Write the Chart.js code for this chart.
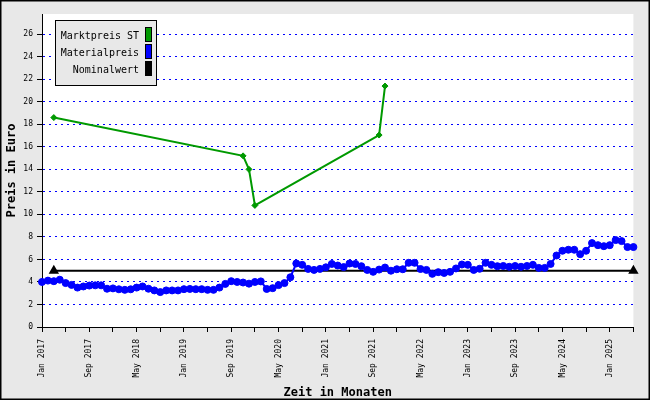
<!DOCTYPE html>
<html>
<head>
<meta charset="utf-8">
<script src="https://cdn.jsdelivr.net/npm/chart.js@4/dist/chart.umd.min.js"></script>
<style>
  html, body { margin: 0; padding: 0; background: #e8e8e8; }
</style>
</head>
<body>
<canvas id="chart" width="650" height="400"></canvas>
<script>
// Materialpreis, ein Wert pro Monat: Jan 2017 (Index 0) bis Mai 2025 (Index 100)
const materialpreis = [
  4.0, 4.12, 4.07, 4.2, 3.9, 3.74, 3.5, 3.6, 3.68, 3.7,
  3.7, 3.4, 3.43, 3.35, 3.3, 3.35, 3.5, 3.6, 3.4, 3.25,
  3.1, 3.25, 3.25, 3.25, 3.36, 3.38, 3.36, 3.36, 3.3, 3.3,
  3.5, 3.83, 4.07, 4.0, 3.95, 3.85, 4.0, 4.05, 3.38, 3.45,
  3.72, 3.9, 4.42, 5.64, 5.52, 5.16, 5.07, 5.16, 5.3, 5.6,
  5.46, 5.32, 5.64, 5.6, 5.4, 5.07, 4.9, 5.1, 5.28, 5.0,
  5.13, 5.13, 5.7, 5.7, 5.15, 5.07, 4.72, 4.87, 4.8, 4.9,
  5.2, 5.55, 5.52, 5.07, 5.17, 5.7, 5.52, 5.4, 5.42, 5.35,
  5.42, 5.35, 5.42, 5.52, 5.25, 5.25, 5.6, 6.35, 6.77, 6.86,
  6.86, 6.47, 6.77, 7.45, 7.27, 7.18, 7.27, 7.72, 7.63, 7.1,
  7.1
];

// Marktpreis ST: Monatsindex und Wert
const marktMonate = [2, 34, 35, 36, 57, 58];
const marktpreis = [18.6, 15.2, 14.0, 10.8, 17.05, 21.4];

// Nominalwert
const nominalMonate = [2, 100];
const nominalwert = [5, 5];

// Achsenbeschriftungen
const xTickLabels = ['Jan 2017', 'Sep 2017', 'May 2018', 'Jan 2019', 'Sep 2019', 'May 2020',
  'Jan 2021', 'Sep 2021', 'May 2022', 'Jan 2023', 'Sep 2023', 'May 2024', 'Jan 2025'];
const yTicks = [0, 2, 4, 6, 8, 10, 12, 14, 16, 18, 20, 22, 24, 26];

const legendItems = [
  { text: 'Marktpreis ST', color: '#009900' },
  { text: 'Materialpreis', color: '#0000ff' },
  { text: 'Nominalwert', color: '#000000' }
];

const bgPlugin = {
  id: 'bg',
  beforeDraw(chart) {
    const c = chart.ctx, a = chart.chartArea;
    c.save();
    c.fillStyle = '#e8e8e8';
    c.fillRect(0, 0, chart.width, chart.height);
    c.fillStyle = '#ffffff';
    c.fillRect(a.left, a.top, a.right - a.left, a.bottom - a.top);
    c.restore();
  },
  afterDraw(chart) {
    const c = chart.ctx;
    c.save();
    // Legende
    c.fillStyle = '#e8e8e8';
    c.fillRect(55.5, 20.5, 101, 65);
    c.strokeStyle = '#000';
    c.lineWidth = 1;
    c.strokeRect(55.5, 20.5, 101, 65);
    c.font = '10px "DejaVu Sans Mono"';
    c.textAlign = 'right';
    c.textBaseline = 'middle';
    legendItems.forEach((it, i) => {
      const cy = 35 + i * 17;
      c.fillStyle = '#000';
      c.fillText(it.text, 139, cy + 1);
      c.fillStyle = it.color;
      c.fillRect(145.5, cy - 7.5, 6, 14);
      c.strokeRect(145.5, cy - 7.5, 6, 14);
    });
    // Rahmen
    c.lineWidth = 1.5;
    c.strokeRect(0.75, 0.75, chart.width - 1.5, chart.height - 1.5);
    c.restore();
  }
};

new Chart(document.getElementById('chart'), {
  type: 'line',
  data: {
    datasets: [{
      label: 'Marktpreis ST',
      data: marktMonate.map((m, i) => ({ x: m, y: marktpreis[i] })),
      borderColor: '#009900',
      backgroundColor: '#009900',
      borderWidth: 2,
      pointStyle: 'rectRot',
      pointRadius: 3,
      pointBorderWidth: 1,
      clip: false
    }, {
      label: 'Materialpreis',
      data: materialpreis.map((v, i) => ({ x: i, y: v })),
      borderColor: '#0000ff',
      backgroundColor: '#0000ff',
      borderWidth: 2,
      pointRadius: 3.5,
      pointBorderWidth: 1,
      clip: false
    }, {
      label: 'Nominalwert',
      data: nominalMonate.map((m, i) => ({ x: m, y: nominalwert[i] })),
      borderColor: '#000000',
      backgroundColor: '#000000',
      borderWidth: 2,
      pointStyle: 'triangle',
      pointRadius: 4,
      clip: false
    }]
  },
  options: {
    responsive: false,
    animation: false,
    devicePixelRatio: 1,
    layout: { padding: { left: 0, right: 13, top: 14, bottom: 0 } },
    plugins: { legend: { display: false }, tooltip: { enabled: false } },
    elements: { line: { tension: 0 } },
    scales: {
      x: {
        type: 'linear',
        min: 0,
        max: 100,
        afterFit(scale) { scale.height = 73; },
        border: { display: true, color: '#000', width: 1 },
        grid: { drawOnChartArea: false, drawTicks: true, tickLength: 5, tickColor: '#000' },
        ticks: {
          stepSize: 4,
          autoSkip: false,
          minRotation: 90,
          maxRotation: 90,
          padding: 7,
          color: '#000',
          font: { family: 'DejaVu Sans Mono', size: 8 },
          callback: v => (v % 8 === 0 ? xTickLabels[v / 8] : '')
        },
        title: {
          display: true,
          text: 'Zeit in Monaten',
          color: '#000',
          font: { family: 'DejaVu Sans Mono', size: 12, weight: 'bold' },
          padding: { top: 5, bottom: 0 }
        }
      },
      y: {
        min: 0,
        max: 27.8,
        afterFit(scale) { scale.width = 42; },
        afterBuildTicks(scale) { scale.ticks = yTicks.map(v => ({ value: v })); },
        border: { display: true, color: '#000', width: 1, dash: [2, 4] },
        grid: {
          color: ctx => (ctx.tick && ctx.tick.value === 0 ? 'rgba(0,0,0,0)' : '#0000ff'),
          lineWidth: 1,
          tickLength: 5,
          tickColor: '#000',
          tickBorderDash: []
        },
        ticks: {
          padding: 4,
          color: '#000',
          font: { family: 'DejaVu Sans Mono', size: 8 }
        },
        title: {
          display: true,
          text: 'Preis in Euro',
          color: '#000',
          font: { family: 'DejaVu Sans Mono', size: 12, weight: 'bold' },
          padding: { top: 5, bottom: 0 }
        }
      }
    }
  },
  plugins: [bgPlugin]
});
</script>
</body>
</html>
